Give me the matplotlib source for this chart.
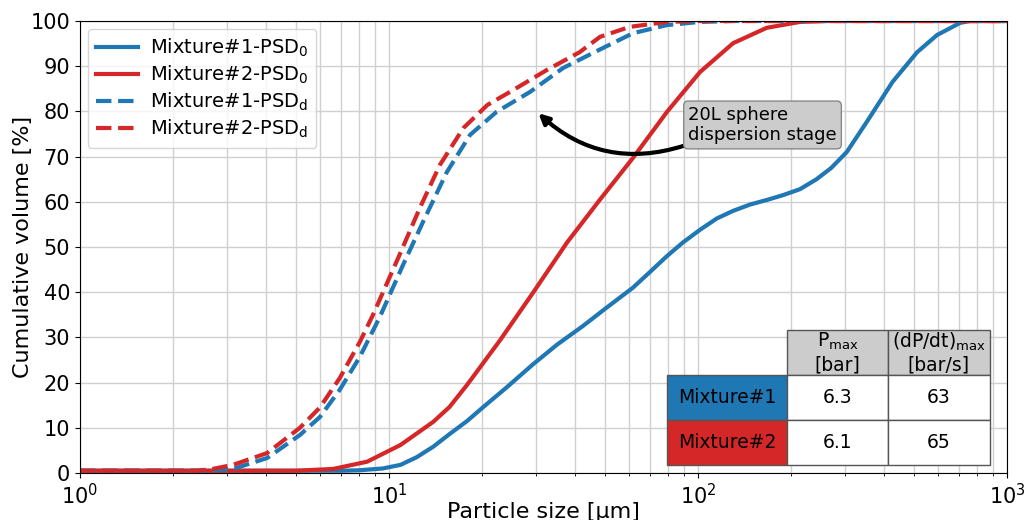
import numpy as np
import matplotlib
matplotlib.use('Agg')
import matplotlib.pyplot as plt

# particle size distributions (size in um, cumulative volume in %)
m1_psd0_x = [1, 7, 8.0, 9.55, 10.9, 12.3, 13.9, 15.7, 17.9, 20.2, 24, 29.2, 35, 42.4,
             50, 61.6, 70, 79.4, 89.4, 101.5, 115, 130, 147.5, 167, 189, 214, 242,
             270, 303, 352, 426, 512, 594, 706, 760, 1000]
m1_psd0_y = [0.5, 0.5, 0.6, 1.0, 1.8, 3.5, 5.8, 8.6, 11.5, 14.6, 18.9, 24, 28.4, 32.5,
             36.3, 41, 44.5, 48, 51, 53.8, 56.3, 58, 59.4, 60.4, 61.5, 62.8, 65,
             67.5, 71, 77.7, 86.5, 93.1, 96.9, 99.6, 100, 100]

m2_psd0_x = [1, 5, 6.6, 8.5, 10.9, 13.9, 15.7, 17.9, 22.9, 29.2, 37.7, 48.2, 61.6,
             79.4, 101.5, 130, 167, 214, 260, 1000]
m2_psd0_y = [0.5, 0.5, 0.9, 2.5, 6.2, 11.3, 14.6, 19.5, 29.4, 39.8, 51, 60.5, 69.7,
             79.9, 88.7, 95.1, 98.5, 99.8, 100, 100]

m1_psdd_x = [1, 2.5, 3.13, 4.03, 5.15, 5.98, 6.93, 8.05, 9.34, 11.1, 12.9, 15.4, 18.3,
             22.3, 28.6, 36.6, 47.2, 61.6, 79.4, 101.5, 130, 1000]
m1_psdd_y = [0.5, 0.5, 0.9, 3.3, 8.4, 12.4, 18.4, 25.7, 34.5, 46, 55.6, 66.6, 74.8,
             79.9, 84.3, 89.6, 93.4, 97.3, 99.1, 99.8, 100, 100]

m2_psdd_x = [1, 2.4, 2.69, 3.13, 4.03, 5.15, 5.98, 6.93, 8.05, 8.88, 10.7, 12.6, 14.6,
             17.4, 20.8, 25.2, 32.5, 41.4, 48.2, 60.1, 79.4, 100, 1000]
m2_psdd_y = [0.5, 0.5, 0.9, 1.8, 4.4, 10, 14.5, 21, 29, 35, 47.5, 58.7, 68.1,
             76.3, 81.4, 84.7, 89.2, 93.1, 96.5, 98.7, 99.8, 100, 100]

mixtures = ['Mixture#1', 'Mixture#2']
pmax = ['6.3', '6.1']
dpdt_max = ['63', '65']

blue = '#1f77b4'
red = '#d62728'

fig, ax = plt.subplots(figsize=(10.25, 5.2), dpi=100)
fig.subplots_adjust(left=0.078, right=0.9824, top=0.9596, bottom=0.0904)

ax.plot(m1_psd0_x, m1_psd0_y, color=blue, lw=3, label='Mixture#1-PSD$_0$')
ax.plot(m2_psd0_x, m2_psd0_y, color=red, lw=3, label='Mixture#2-PSD$_0$')
ax.plot(m1_psdd_x, m1_psdd_y, color=blue, lw=3, ls='--', label='Mixture#1-PSD$_\\mathrm{d}$')
ax.plot(m2_psdd_x, m2_psdd_y, color=red, lw=3, ls='--', label='Mixture#2-PSD$_\\mathrm{d}$')

ax.set_xscale('log')
ax.set_xlim(1, 1000)
ax.set_ylim(0, 100)
ax.set_yticks(np.arange(0, 101, 10))
ax.tick_params(labelsize=15)
ax.grid(which='major', color='#d0d0d0', lw=1)
ax.grid(which='minor', axis='x', color='#d0d0d0', lw=1)
ax.set_axisbelow(True)
ax.set_xlabel('Particle size [μm]', fontsize=16, labelpad=-4)
ax.set_ylabel('Cumulative volume [%]', fontsize=16, labelpad=-2)

ax.legend(loc='upper left', fontsize=14, handlelength=2.2, labelspacing=0.25,
          handletextpad=0.6, borderaxespad=0.4)

ax.annotate('20L sphere\ndispersion stage', xy=(30, 80), xytext=(93, 77),
            fontsize=13, va='center', ha='left',
            bbox=dict(boxstyle='round,pad=0.25', fc='#cccccc', ec='#888888'),
            arrowprops=dict(arrowstyle='-|>', color='black', lw=3, mutation_scale=15,
                            connectionstyle='arc3,rad=-0.3', relpos=(0, 0), shrinkA=0))

cells = [['', 'P$_{\\mathrm{max}}$\n[bar]', '(dP/dt)$_{\\mathrm{max}}$\n[bar/s]']]
for name, p, d in zip(mixtures, pmax, dpdt_max):
    cells.append([name, p, d])
tab = ax.table(cellText=cells, cellLoc='center', colWidths=[1, 0.84, 0.85],
               bbox=[0.633, 0.0177, 0.3487, 0.2986])
tab.set_zorder(5)
tab.auto_set_font_size(False)
tab.set_fontsize(13.5)
for (r, c), cell in tab.get_celld().items():
    cell.set_edgecolor('#555555')
    cell.PAD = 0.02
    if r == 0 and c == 0:
        cell.visible_edges = ''
        cell.set_facecolor('none')
    elif r == 0:
        cell.set_facecolor('#cccccc')
    elif c == 0:
        cell.set_facecolor(blue if r == 1 else red)

fig.savefig('out.png', dpi=100)
